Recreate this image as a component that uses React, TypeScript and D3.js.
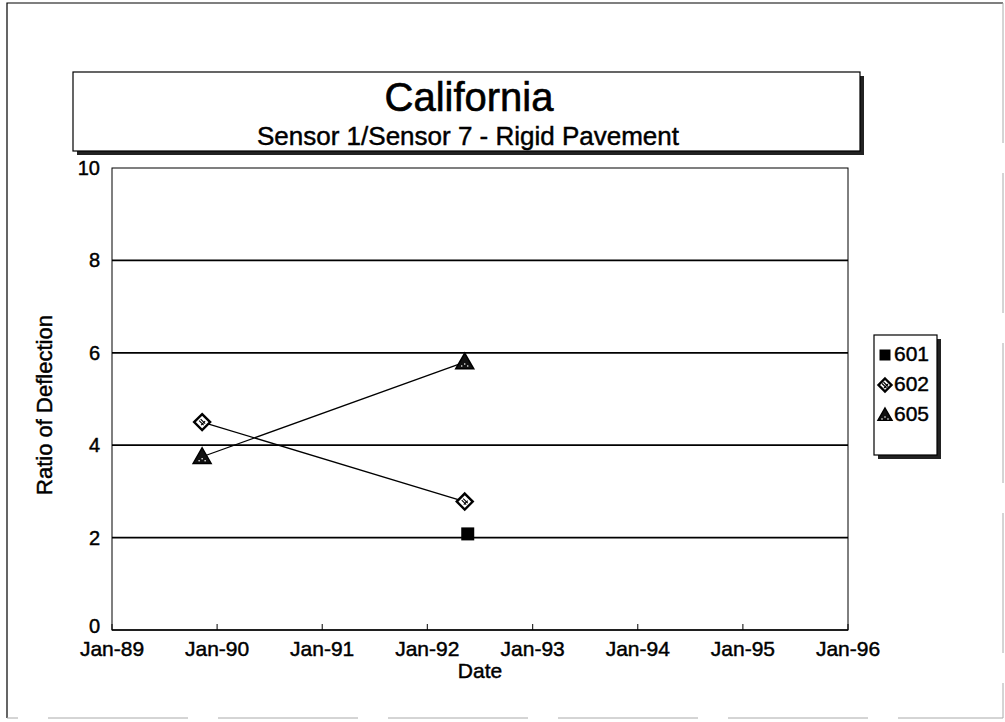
import React from "react";
import * as d3 from "d3";

const yTicks = [0, 2, 4, 6, 8, 10];
const xTickDates = ["1989-01-01","1990-01-01","1991-01-01","1992-01-01","1993-01-01","1994-01-01","1995-01-01","1996-01-01"];
const s601Dates = ["1992-05-10"];
const s601Values = [2.08];
const s602Dates = ["1989-11-10", "1992-05-10"];
const s602Values = [4.5, 2.78];
const s605Dates = ["1989-11-10", "1992-05-10"];
const s605Values = [3.75, 5.8];
const legendLabels = ["601", "602", "605"];

const FONT = "'Liberation Sans', Arial, sans-serif";
const W = 1005, H = 722;
const M = { left: 112, right: 848, top: 168, bottom: 630 };
const TXT = { fill: "#000", stroke: "#000", strokeWidth: 0.45 };

const parse = d3.utcParse("%Y-%m-%d");
const fmt = d3.utcFormat("%b-%y");

function Square({ x, y, s = 12 }: { x: number; y: number; s?: number }) {
  return <rect x={x - s / 2} y={y - s / 2} width={s} height={s} fill="#000" />;
}
function Diamond({ x, y, s = 8 }: { x: number; y: number; s?: number }) {
  const p = `M${x},${y - s} L${x + s},${y} L${x},${y + s} L${x - s},${y} Z`;
  return (
    <g>
      <path d={p} fill="#fff" stroke="#000" strokeWidth={2.4} />
      <path d={`M${x - 3},${y - 1.5} L${x + 1.5},${y + 3} M${x - 1.5},${y - 3} L${x + 3},${y + 1.5} M${x - 1},${y + 3} L${x + 3},${y - 1}`} stroke="#000" strokeWidth={1.1} />
    </g>
  );
}
function Triangle({ x, y, s = 9 }: { x: number; y: number; s?: number }) {
  const p = `M${x},${y - s} L${x + s},${y + s * 0.75} L${x - s},${y + s * 0.75} Z`;
  return (
    <g>
      <path d={p} fill="#111" stroke="#000" strokeWidth={1.5} />
      <circle cx={x} cy={y + 2} r={0.8} fill="#fff" />
      <circle cx={x - 3} cy={y + 4} r={0.8} fill="#fff" />
      <circle cx={x + 3} cy={y + 4} r={0.8} fill="#fff" />
    </g>
  );
}

export default function App() {
  const x = d3.scaleUtc().domain([parse("1989-01-01")!, parse("1996-01-01")!]).range([M.left, M.right]);
  const y = d3.scaleLinear().domain([0, 10]).range([M.bottom, M.top]);
  const line = d3.line<[Date, number]>().x(d => x(d[0])).y(d => y(d[1]));
  const d602 = s602Dates.map((d, i) => [parse(d)!, s602Values[i]] as [Date, number]);
  const d605 = s605Dates.map((d, i) => [parse(d)!, s605Values[i]] as [Date, number]);
  const d601 = s601Dates.map((d, i) => [parse(d)!, s601Values[i]] as [Date, number]);

  return (
    <svg width={W} height={H} style={{ position: "absolute", left: 0, top: 0, background: "#fff" }} fontFamily={FONT}>
      <rect x={0} y={0} width={W} height={H} fill="#fff" />
      {/* outer frame */}
      <path d={`M7,718 L7,3 L1003,3`} fill="none" stroke="#000" strokeWidth={1.2} />
      <path d={`M1003,3 L1003,718 L7,718`} fill="none" stroke="#aaa" strokeWidth={1} strokeDasharray="140,30" />
      {/* title box */}
      <rect x={77} y={76} width={787} height={79} fill="#222" />
      <rect x={73} y={72} width={787} height={79} fill="#fff" stroke="#000" strokeWidth={1.2} />
      <text x={469} y={111} textAnchor="middle" fontSize={40} {...TXT} strokeWidth={0.6}>California</text>
      <text x={468} y={145} textAnchor="middle" fontSize={26} {...TXT}>Sensor 1/Sensor 7 - Rigid Pavement</text>

      {/* plot frame */}
      <rect x={M.left} y={M.top} width={M.right - M.left} height={M.bottom - M.top} fill="none" stroke="#000" strokeWidth={1} />
      {yTicks.filter(t => t > 0 && t < 10).map(t => (
        <line key={t} x1={M.left} x2={M.right} y1={y(t)} y2={y(t)} stroke="#000" strokeWidth={1.8} />
      ))}
      {yTicks.map(t => (
        <text key={t} x={100} y={y(t) + (t === 0 ? 3 : 7)} textAnchor="end" fontSize={20} {...TXT}>{t}</text>
      ))}
      {xTickDates.map(ds => {
        const d = parse(ds)!;
        return (
          <g key={ds}>
            <line x1={x(d)} x2={x(d)} y1={M.bottom} y2={M.bottom - 6} stroke="#000" strokeWidth={1} />
            <text x={x(d)} y={M.bottom + 26} textAnchor="middle" fontSize={21} {...TXT}>{fmt(d)}</text>
          </g>
        );
      })}
      <line x1={M.left} x2={M.right} y1={M.bottom} y2={M.bottom} stroke="#000" strokeWidth={1.5} />
      <text x={480} y={678} textAnchor="middle" fontSize={21} {...TXT}>Date</text>
      <text transform={`translate(52,${(M.top + M.bottom) / 2 + 6}) rotate(-90)`} textAnchor="middle" fontSize={22} {...TXT}>Ratio of Deflection</text>

      {/* series */}
      <path d={line(d602)!} fill="none" stroke="#000" strokeWidth={1.3} />
      <path d={line(d605)!} fill="none" stroke="#000" strokeWidth={1.3} />
      {d602.map((d, i) => <Diamond key={i} x={x(d[0])} y={y(d[1])} />)}
      {d605.map((d, i) => <Triangle key={i} x={x(d[0])} y={y(d[1])} />)}
      {d601.map((d, i) => <Square key={i} x={x(d[0]) + 3} y={y(d[1])} s={13} />)}

      {/* legend */}
      <rect x={878} y={339} width={63} height={120} fill="#222" />
      <rect x={874} y={335} width={63} height={120} fill="#fff" stroke="#000" strokeWidth={1.2} />
      {legendLabels.map((l, i) => {
        const cy = 353 + i * 30;
        return (
          <g key={l}>
            {i === 0 && <Square x={885} y={cy + 2} s={11} />}
            {i === 1 && <Diamond x={885} y={cy + 2} s={6.5} />}
            {i === 2 && <Triangle x={885} y={cy + 2} s={7} />}
            <text x={894} y={cy + 8} fontSize={21} {...TXT}>{l}</text>
          </g>
        );
      })}
    </svg>
  );
}
